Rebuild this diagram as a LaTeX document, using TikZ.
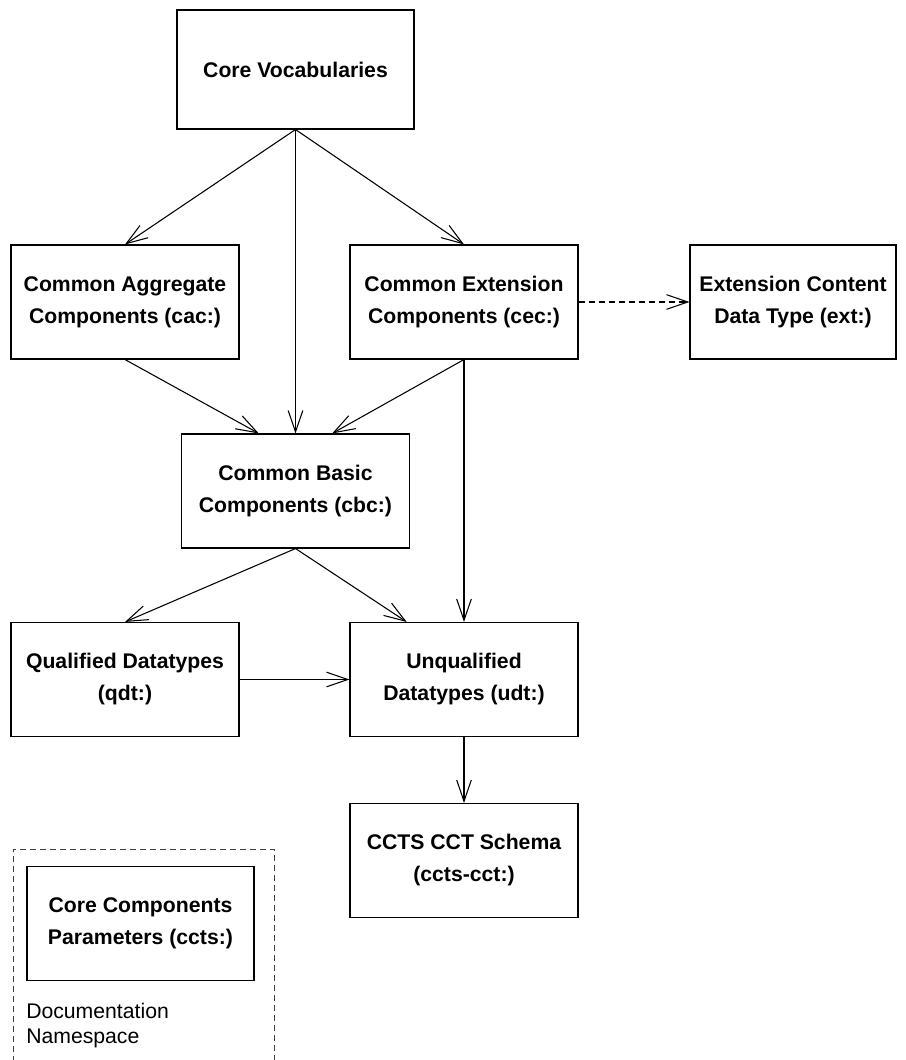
\documentclass[tikz,border=0pt]{standalone}
\usepackage{fontspec}
\setmainfont{Liberation Sans}
\usepackage{tikz}
\usetikzlibrary{calc}
\usetikzlibrary{arrows.meta}

\tikzset{
  schemabox/.style={draw, line width=0.8pt, minimum width=171pt, minimum height=85.5pt, inner sep=0.75pt, align=center, font=\bfseries\fontsize{15.9}{24}\selectfont},
  dep/.style={line width=0.8pt, -{Straight Barb[length=16pt,width=11pt]}},
  nsdash/.style={dash pattern=on 4.5pt off 3pt},
}

\begin{document}
\begin{tikzpicture}[x=0.75pt,y=0.75pt,yscale=-1,xscale=1]
                  \useasboundingbox (0,0) rectangle (906,1060);

                  %Shape: Rectangle
                  \node (cv) [schemabox, minimum width=177.75pt, minimum height=89.25pt] at (295.5,69.5) {Core Vocabularies};
                  %Shape: Rectangle
                  \node (cac) [schemabox] at (125,302) {Common Aggregate\\Components (cac:)};
                  %Shape: Rectangle
                  \node (cec) [schemabox] at (464,302) {Common Extension\\Components (cec:)};
                  %Shape: Rectangle
                  \node (ext) [schemabox, minimum width=154.5pt] at (793,302) {Extension Content\\Data Type (ext:)};
                  %Shape: Rectangle
                  \node (cbc) [schemabox] at (295.5,491) {Common Basic\\Components (cbc:)};
                  %Shape: Rectangle
                  \node (qdt) [schemabox] at (125,679.5) {Qualified Datatypes\\(qdt:)};
                  %Shape: Rectangle
                  \node (udt) [schemabox] at (464,679.5) {Unqualified\\Datatypes (udt:)};
                  %Shape: Rectangle
                  \node (cct) [schemabox] at (464,860.5) {CCTS CCT Schema\\(ccts-cct:)};

                  %Shape: Namespace frame
                  \draw [nsdash, line width=0.6pt, black!75] (13,1062) -- (13,849) -- (274,849) -- (274,1062);
                  %Shape: Rectangle
                  \node (ccts) [schemabox, minimum width=170.25pt] at (140.5,923.5) {Core Components\\Parameters (ccts:)};
                  % Text Node
                  \node (docns) [anchor=west, inner sep=0.75pt, align=left, font=\fontsize{15.9}{19}\selectfont] at (25,1025.5) {Documentation\\Namespace};

                  %Straight Lines
                  \draw [dep] (cv.south) -- (cac.north);
                  \draw [dep] (cv.south) -- (cbc.north);
                  \draw [dep] (cv.south) -- (cec.north);
                  \draw [dep] (cac.south) -- ($(cbc.north west)!0.34!(cbc.north east)$);
                  \draw [dep] (cec.south) -- ($(cbc.north west)!0.66!(cbc.north east)$);
                  \draw [dep] (cec.south) -- (udt.north);
                  \draw [dep, nsdash] (cec.east) -- (ext.west);
                  \draw [dep] (cbc.south) -- (qdt.north);
                  \draw [dep] (cbc.south) -- ($(udt.north west)!0.25!(udt.north east)$);
                  \draw [dep] (qdt.east) -- (udt.west);
                  \draw [dep] (udt.south) -- (cct.north);

              \end{tikzpicture}
\end{document}
